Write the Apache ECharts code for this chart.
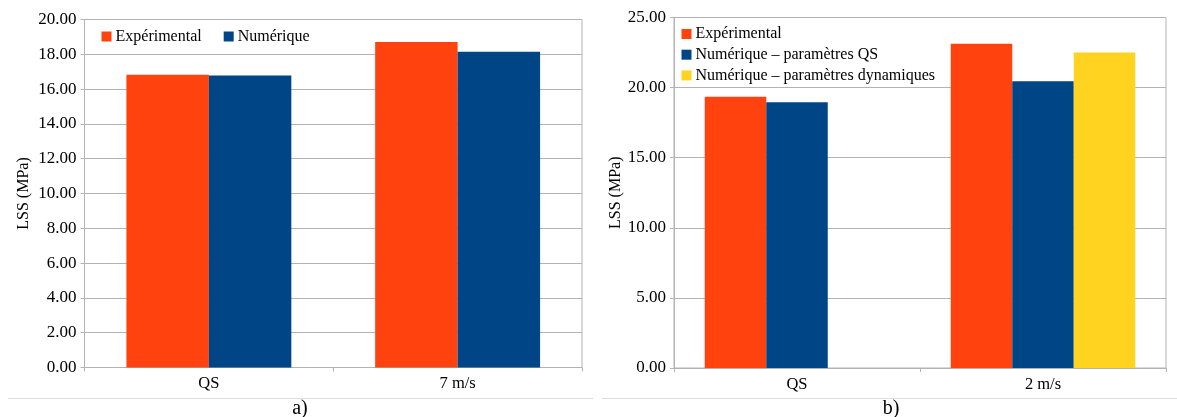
<!DOCTYPE html>
<html>
<head>
<meta charset="utf-8">
<script src="https://cdn.jsdelivr.net/npm/echarts@6/dist/echarts.min.js"></script>
<style>
html,body{margin:0;padding:0;background:#fff;}
#chart{width:1177px;height:417px;}
</style>
</head>
<body>
<div id="chart"></div>
<script>
// ---- Data ----
var categoriesA = ['QS', '7 m/s'];
var experimentalA = [16.82, 18.70];
var numeriqueA = [16.78, 18.14];

var categoriesB = ['QS', '2 m/s'];
var experimentalB = [19.34, 23.12];
var numeriqueQSB = [18.96, 20.46];
var numeriqueDynB = [null, 22.50];

var seriesNamesA = ['Expérimental', 'Numérique'];
var seriesNamesB = ['Expérimental', 'Numérique – paramètres QS', 'Numérique – paramètres dynamiques'];
var yAxisName = 'LSS (MPa)';
var captions = ['a)', 'b)'];

// ---- Styles ----
var FONT = '"Liberation Serif", "DejaVu Serif", serif';
var ORANGE = '#FF420E', BLUE = '#004586', YELLOW = '#FFD320';
var GRID_COLOR = '#b3b3b3';

function yAxis(gridIndex, max, interval) {
  return {
    type: 'value', gridIndex: gridIndex, min: 0, max: max, interval: interval,
    name: yAxisName, nameLocation: 'middle', nameRotate: 90,
    nameGap: gridIndex === 0 ? 53 : 50.5,
    nameTextStyle: { fontFamily: FONT, fontSize: 16, color: '#000' },
    axisLine: { show: true, lineStyle: { color: GRID_COLOR } },
    axisTick: { show: true, length: 4, lineStyle: { color: GRID_COLOR } },
    splitLine: { show: true, lineStyle: { color: GRID_COLOR } },
    axisLabel: {
      fontFamily: FONT, fontSize: 17, color: '#000', margin: 8,
      formatter: function (v) { return v.toFixed(2); }
    }
  };
}
function xAxis(gridIndex, data) {
  return {
    type: 'category', gridIndex: gridIndex, data: data,
    axisLine: { show: true, lineStyle: { color: GRID_COLOR } },
    axisTick: { show: true, length: 4, lineStyle: { color: GRID_COLOR } },
    axisLabel: { fontFamily: FONT, fontSize: 16.5, color: '#000', margin: 8 }
  };
}

var chart = echarts.init(document.getElementById('chart'), null, { renderer: 'canvas' });
chart.setOption({
  animation: false,
  backgroundColor: '#fff',
  grid: [
    { left: 84.5, top: 19.5, width: 497.5, height: 348, show: true, borderColor: GRID_COLOR, borderWidth: 1, containLabel: false },
    { left: 674, top: 17.5, width: 492, height: 350.5, show: true, borderColor: GRID_COLOR, borderWidth: 1, containLabel: false }
  ],
  xAxis: [xAxis(0, categoriesA), xAxis(1, categoriesB)],
  yAxis: [yAxis(0, 20, 2), yAxis(1, 25, 5)],
  legend: [
    {
      data: seriesNamesA, left: 101.5, top: 28.5, orient: 'horizontal',
      icon: 'rect', itemWidth: 10, itemHeight: 10, itemGap: 22,
      textStyle: { fontFamily: FONT, fontSize: 16, color: '#000', padding: [0, 0, 0, -1] },
      padding: 0
    },
    {
      data: seriesNamesB, left: 681.5, top: 26, orient: 'vertical',
      icon: 'rect', itemWidth: 10, itemHeight: 10, itemGap: 4.7,
      textStyle: { fontFamily: FONT, fontSize: 16, color: '#000', padding: [0, 0, 0, -1] },
      padding: 0
    }
  ],
  series: [
    { name: seriesNamesA[0], type: 'bar', xAxisIndex: 0, yAxisIndex: 0, data: experimentalA,
      itemStyle: { color: ORANGE }, barGap: '0%', barCategoryGap: '33.7%' },
    { name: seriesNamesA[1], type: 'bar', xAxisIndex: 0, yAxisIndex: 0, data: numeriqueA,
      itemStyle: { color: BLUE }, barGap: '0%', barCategoryGap: '33.7%' },
    { name: seriesNamesB[0], type: 'bar', xAxisIndex: 1, yAxisIndex: 1, data: experimentalB,
      itemStyle: { color: ORANGE }, barGap: '0%', barCategoryGap: '25%' },
    { name: seriesNamesB[1], type: 'bar', xAxisIndex: 1, yAxisIndex: 1, data: numeriqueQSB,
      itemStyle: { color: BLUE }, barGap: '0%', barCategoryGap: '25%' },
    { name: seriesNamesB[2], type: 'bar', xAxisIndex: 1, yAxisIndex: 1, data: numeriqueDynB,
      itemStyle: { color: YELLOW }, barGap: '0%', barCategoryGap: '25%' }
  ],
  graphic: [
    { type: 'line', shape: { x1: 8, y1: 398.5, x2: 593, y2: 398.5 }, style: { stroke: '#dcdcdc', lineWidth: 1 } },
    { type: 'line', shape: { x1: 601.5, y1: 398.5, x2: 1177, y2: 398.5 }, style: { stroke: '#dcdcdc', lineWidth: 1 } },
    { type: 'text', x: 300, y: 409, style: { text: captions[0], font: '20px ' + FONT, fill: '#000', align: 'center', verticalAlign: 'middle' } },
    { type: 'text', x: 891, y: 409, style: { text: captions[1], font: '20px ' + FONT, fill: '#000', align: 'center', verticalAlign: 'middle' } }
  ]
});
</script>
</body>
</html>
